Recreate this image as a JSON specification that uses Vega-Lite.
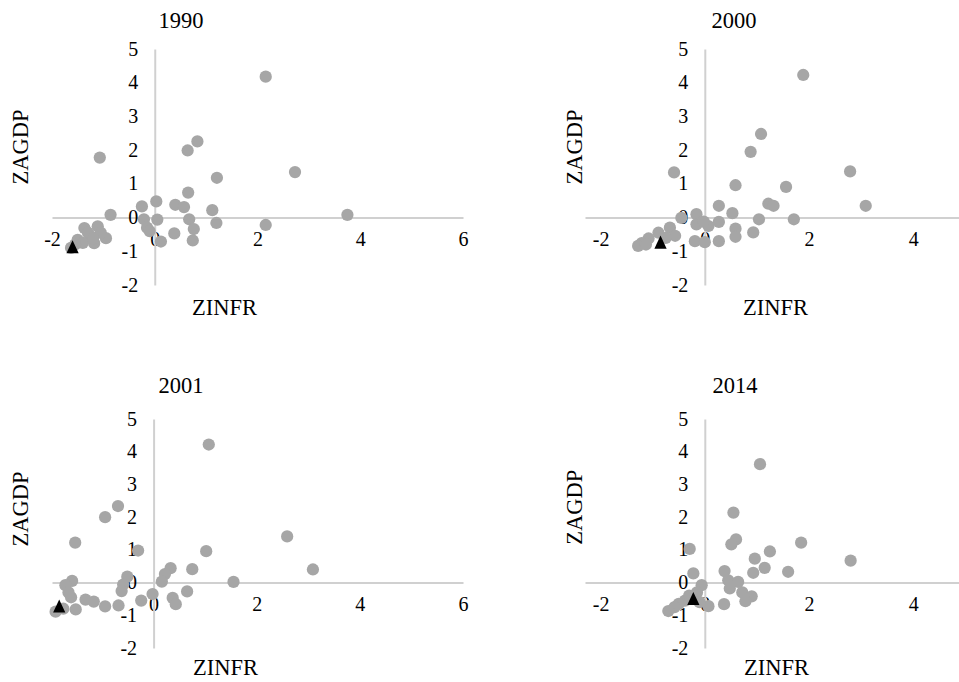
{
  "$schema": "https://vega.github.io/schema/vega-lite/v6.json",
  "background": "white",
  "padding": {"left": 9, "top": 9, "right": 0, "bottom": 0},
  "spacing": 54,
  "datasets": {
    "d": [
      {"p": "1990", "x": 2.16, "y": 4.18, "t": "c"},
      {"p": "1990", "x": 0.83, "y": 2.26, "t": "c"},
      {"p": "1990", "x": 0.64, "y": 1.99, "t": "c"},
      {"p": "1990", "x": -1.07, "y": 1.78, "t": "c"},
      {"p": "1990", "x": 2.73, "y": 1.35, "t": "c"},
      {"p": "1990", "x": 1.21, "y": 1.18, "t": "c"},
      {"p": "1990", "x": 0.65, "y": 0.74, "t": "c"},
      {"p": "1990", "x": 0.03, "y": 0.48, "t": "c"},
      {"p": "1990", "x": -0.25, "y": 0.33, "t": "c"},
      {"p": "1990", "x": 0.4, "y": 0.38, "t": "c"},
      {"p": "1990", "x": 0.57, "y": 0.31, "t": "c"},
      {"p": "1990", "x": 1.12, "y": 0.22, "t": "c"},
      {"p": "1990", "x": -0.86, "y": 0.08, "t": "c"},
      {"p": "1990", "x": 3.75, "y": 0.08, "t": "c"},
      {"p": "1990", "x": 0.67, "y": -0.05, "t": "c"},
      {"p": "1990", "x": 1.2, "y": -0.16, "t": "c"},
      {"p": "1990", "x": 2.16, "y": -0.22, "t": "c"},
      {"p": "1990", "x": 0.76, "y": -0.34, "t": "c"},
      {"p": "1990", "x": 0.38, "y": -0.47, "t": "c"},
      {"p": "1990", "x": 0.74, "y": -0.68, "t": "c"},
      {"p": "1990", "x": 0.12, "y": -0.71, "t": "c"},
      {"p": "1990", "x": 0.05, "y": -0.06, "t": "c"},
      {"p": "1990", "x": -0.21, "y": -0.05, "t": "c"},
      {"p": "1990", "x": -0.15, "y": -0.3, "t": "c"},
      {"p": "1990", "x": -0.1, "y": -0.4, "t": "c"},
      {"p": "1990", "x": -1.37, "y": -0.31, "t": "c"},
      {"p": "1990", "x": -1.11, "y": -0.26, "t": "c"},
      {"p": "1990", "x": -0.95, "y": -0.61, "t": "c"},
      {"p": "1990", "x": -1.25, "y": -0.56, "t": "c"},
      {"p": "1990", "x": -1.5, "y": -0.66, "t": "c"},
      {"p": "1990", "x": -1.63, "y": -0.9, "t": "c"},
      {"p": "1990", "x": -1.18, "y": -0.76, "t": "c"},
      {"p": "1990", "x": -1.3, "y": -0.45, "t": "c"},
      {"p": "1990", "x": -1.05, "y": -0.45, "t": "c"},
      {"p": "1990", "x": -1.4, "y": -0.75, "t": "c"},
      {"p": "1990", "x": -1.55, "y": -0.8, "t": "c"},
      {"p": "1990", "x": -1.2, "y": -0.62, "t": "c"},
      {"p": "1990", "x": -1.6, "y": -0.88, "t": "t"},

      {"p": "2000", "x": 1.89, "y": 4.23, "t": "c"},
      {"p": "2000", "x": 1.08, "y": 2.48, "t": "c"},
      {"p": "2000", "x": 0.88, "y": 1.95, "t": "c"},
      {"p": "2000", "x": -0.59, "y": 1.34, "t": "c"},
      {"p": "2000", "x": 2.79, "y": 1.37, "t": "c"},
      {"p": "2000", "x": 0.59, "y": 0.96, "t": "c"},
      {"p": "2000", "x": 1.56, "y": 0.91, "t": "c"},
      {"p": "2000", "x": 0.27, "y": 0.35, "t": "c"},
      {"p": "2000", "x": 1.22, "y": 0.41, "t": "c"},
      {"p": "2000", "x": 1.32, "y": 0.35, "t": "c"},
      {"p": "2000", "x": 3.09, "y": 0.35, "t": "c"},
      {"p": "2000", "x": 0.53, "y": 0.13, "t": "c"},
      {"p": "2000", "x": -0.16, "y": 0.1, "t": "c"},
      {"p": "2000", "x": -0.45, "y": -0.01, "t": "c"},
      {"p": "2000", "x": 1.04, "y": -0.05, "t": "c"},
      {"p": "2000", "x": 1.71, "y": -0.05, "t": "c"},
      {"p": "2000", "x": 0.27, "y": -0.13, "t": "c"},
      {"p": "2000", "x": -0.16, "y": -0.2, "t": "c"},
      {"p": "2000", "x": 0.07, "y": -0.25, "t": "c"},
      {"p": "2000", "x": 0.59, "y": -0.33, "t": "c"},
      {"p": "2000", "x": 0.59, "y": -0.57, "t": "c"},
      {"p": "2000", "x": 0.93, "y": -0.44, "t": "c"},
      {"p": "2000", "x": 0.27, "y": -0.7, "t": "c"},
      {"p": "2000", "x": -0.19, "y": -0.7, "t": "c"},
      {"p": "2000", "x": 0.0, "y": -0.73, "t": "c"},
      {"p": "2000", "x": -0.67, "y": -0.3, "t": "c"},
      {"p": "2000", "x": -0.57, "y": -0.54, "t": "c"},
      {"p": "2000", "x": -0.89, "y": -0.45, "t": "c"},
      {"p": "2000", "x": -1.08, "y": -0.62, "t": "c"},
      {"p": "2000", "x": -1.21, "y": -0.76, "t": "c"},
      {"p": "2000", "x": -1.28, "y": -0.84, "t": "c"},
      {"p": "2000", "x": -1.13, "y": -0.8, "t": "c"},
      {"p": "2000", "x": -0.75, "y": -0.6, "t": "c"},
      {"p": "2000", "x": -0.02, "y": -0.12, "t": "c"},
      {"p": "2000", "x": -0.85, "y": -0.74, "t": "t"},

      {"p": "2001", "x": 1.07, "y": 4.22, "t": "c"},
      {"p": "2001", "x": -0.69, "y": 2.34, "t": "c"},
      {"p": "2001", "x": -0.94, "y": 2.0, "t": "c"},
      {"p": "2001", "x": 2.59, "y": 1.41, "t": "c"},
      {"p": "2001", "x": -1.52, "y": 1.22, "t": "c"},
      {"p": "2001", "x": -0.3, "y": 0.98, "t": "c"},
      {"p": "2001", "x": 1.02, "y": 0.96, "t": "c"},
      {"p": "2001", "x": 3.09, "y": 0.4, "t": "c"},
      {"p": "2001", "x": 0.75, "y": 0.41, "t": "c"},
      {"p": "2001", "x": 0.33, "y": 0.44, "t": "c"},
      {"p": "2001", "x": 0.22, "y": 0.26, "t": "c"},
      {"p": "2001", "x": 0.16, "y": 0.03, "t": "c"},
      {"p": "2001", "x": 1.55, "y": 0.02, "t": "c"},
      {"p": "2001", "x": -0.51, "y": 0.18, "t": "c"},
      {"p": "2001", "x": -0.59, "y": -0.06, "t": "c"},
      {"p": "2001", "x": -0.62, "y": -0.26, "t": "c"},
      {"p": "2001", "x": 0.65, "y": -0.27, "t": "c"},
      {"p": "2001", "x": 0.37, "y": -0.47, "t": "c"},
      {"p": "2001", "x": 0.43, "y": -0.66, "t": "c"},
      {"p": "2001", "x": -0.02, "y": -0.35, "t": "c"},
      {"p": "2001", "x": -0.24, "y": -0.55, "t": "c"},
      {"p": "2001", "x": -0.68, "y": -0.7, "t": "c"},
      {"p": "2001", "x": -0.94, "y": -0.73, "t": "c"},
      {"p": "2001", "x": -1.16, "y": -0.58, "t": "c"},
      {"p": "2001", "x": -1.32, "y": -0.52, "t": "c"},
      {"p": "2001", "x": -1.58, "y": 0.05, "t": "c"},
      {"p": "2001", "x": -1.71, "y": -0.08, "t": "c"},
      {"p": "2001", "x": -1.6, "y": -0.45, "t": "c"},
      {"p": "2001", "x": -1.51, "y": -0.82, "t": "c"},
      {"p": "2001", "x": -1.9, "y": -0.89, "t": "c"},
      {"p": "2001", "x": -1.75, "y": -0.8, "t": "c"},
      {"p": "2001", "x": -1.65, "y": -0.3, "t": "c"},
      {"p": "2001", "x": -1.83, "y": -0.73, "t": "t"},

      {"p": "2014", "x": 1.06, "y": 3.62, "t": "c"},
      {"p": "2014", "x": 0.55, "y": 2.14, "t": "c"},
      {"p": "2014", "x": 0.6, "y": 1.32, "t": "c"},
      {"p": "2014", "x": 0.51, "y": 1.17, "t": "c"},
      {"p": "2014", "x": 1.85, "y": 1.22, "t": "c"},
      {"p": "2014", "x": -0.29, "y": 1.03, "t": "c"},
      {"p": "2014", "x": 1.25, "y": 0.95, "t": "c"},
      {"p": "2014", "x": 0.96, "y": 0.73, "t": "c"},
      {"p": "2014", "x": 2.8, "y": 0.67, "t": "c"},
      {"p": "2014", "x": 1.15, "y": 0.45, "t": "c"},
      {"p": "2014", "x": 0.93, "y": 0.3, "t": "c"},
      {"p": "2014", "x": 1.6, "y": 0.33, "t": "c"},
      {"p": "2014", "x": 0.38, "y": 0.35, "t": "c"},
      {"p": "2014", "x": -0.22, "y": 0.28, "t": "c"},
      {"p": "2014", "x": -0.06, "y": -0.08, "t": "c"},
      {"p": "2014", "x": 0.45, "y": 0.07, "t": "c"},
      {"p": "2014", "x": 0.64, "y": 0.02, "t": "c"},
      {"p": "2014", "x": 0.48, "y": -0.18, "t": "c"},
      {"p": "2014", "x": 0.72, "y": -0.3, "t": "c"},
      {"p": "2014", "x": 0.9, "y": -0.42, "t": "c"},
      {"p": "2014", "x": 0.78, "y": -0.57, "t": "c"},
      {"p": "2014", "x": 0.37, "y": -0.66, "t": "c"},
      {"p": "2014", "x": 0.07, "y": -0.72, "t": "c"},
      {"p": "2014", "x": -0.38, "y": -0.55, "t": "c"},
      {"p": "2014", "x": -0.5, "y": -0.65, "t": "c"},
      {"p": "2014", "x": -0.58, "y": -0.75, "t": "c"},
      {"p": "2014", "x": -0.7, "y": -0.87, "t": "c"},
      {"p": "2014", "x": -0.15, "y": -0.3, "t": "c"},
      {"p": "2014", "x": -0.3, "y": -0.4, "t": "c"},
      {"p": "2014", "x": -0.1, "y": -0.6, "t": "c"},
      {"p": "2014", "x": -0.22, "y": -0.5, "t": "t"}
    ]
  },
  "config": {
    "view": {"stroke": null},
    "font": "Liberation Serif",
    "title": {"font": "Liberation Serif", "fontSize": 22.5, "fontWeight": "normal", "color": "#000000"},
    "style": {
      "guide-label": {"font": "Liberation Serif", "fontSize": 20, "fill": "#000000"},
      "guide-title": {"font": "Liberation Serif", "fontSize": 22.5, "fontWeight": "normal", "fill": "#000000"}
    },
    "axis": {
      "domainColor": "#d0d0d0", "domainWidth": 2, "ticks": false, "tickSize": 0, "grid": false,
      "labelFont": "Liberation Serif", "labelFontSize": 20, "labelColor": "#000000",
      "titleFont": "Liberation Serif", "titleFontSize": 22.5, "titleFontWeight": "normal", "titleColor": "#000000",
      "labelFlush": false, "labelOverlap": false, "labelBound": false,
      "labelExpr": "'' + datum.value"
    },
    "axisX": {"labelPadding": 12, "titleBaseline": "alphabetic", "titleAlign": "center", "titleAngle": 0},
    "axisY": {"labelPadding": 17, "titleBaseline": "middle", "titleAlign": "center", "titleAngle": 270}
  },
  "resolve": {"scale": {"x": "independent", "y": "independent"}},
  "vconcat": [
    {
      "spacing": 95,
      "resolve": {"scale": {"x": "independent", "y": "independent"}},
      "hconcat": [
        {
          "width": 411, "height": 236,
          "data": {"name": "d"},
          "title": {"text": "1990", "anchor": "start", "align": "center", "dx": 129, "offset": -11, "frame": "group", "baseline": "alphabetic"},
          "transform": [{"filter": "datum.p === '1990'"}],
          "mark": {"type": "point", "filled": true, "opacity": 1},
          "encoding": {
            "x": {"field": "x", "type": "quantitative", "scale": {"domain": [-2, 6], "nice": false, "zero": false},
                  "axis": {"values": [-2, 0, 2, 4, 6], "offset": -67.43, "title": "ZINFR", "titleX": 172, "titleY": 97.4, "labelFont": "Liberation Serif", "titleFont": "Liberation Serif", "labelExpr": "'' + datum.value"}},
            "y": {"field": "y", "type": "quantitative", "scale": {"domain": [-2, 5], "nice": false, "zero": false},
                  "axis": {"values": [-2, -1, 0, 1, 2, 3, 4, 5], "offset": -102.75, "title": "ZAGDP", "titleX": -134.25, "titleY": 97.5, "labelFont": "Liberation Serif", "titleFont": "Liberation Serif", "labelExpr": "'' + datum.value"}},
            "shape": {"field": "t", "type": "nominal", "scale": {"domain": ["c", "t"], "range": ["circle", "M0,-1.15L-1,1L1,1Z"]}, "legend": null},
            "color": {"field": "t", "type": "nominal", "scale": {"domain": ["c", "t"], "range": ["#a6a6a6", "#000000"]}, "legend": null},
            "size": {"field": "t", "type": "ordinal", "scale": {"domain": ["c", "t"], "range": [150, 150]}, "legend": null}
          }
        },
        {
          "width": 375, "height": 236,
          "data": {"name": "d"},
          "title": {"text": "2000", "anchor": "start", "align": "center", "dx": 149, "offset": -11, "frame": "group", "baseline": "alphabetic"},
          "transform": [{"filter": "datum.p === '2000'"}],
          "mark": {"type": "point", "filled": true, "opacity": 1},
          "encoding": {
            "x": {"field": "x", "type": "quantitative", "scale": {"domain": [-2.3, 4.9], "nice": false, "zero": false},
                  "axis": {"values": [-2, 0, 2, 4], "offset": -67.43, "title": "ZINFR", "titleX": 190, "titleY": 97.4, "labelFont": "Liberation Serif", "titleFont": "Liberation Serif", "labelExpr": "'' + datum.value"}},
            "y": {"field": "y", "type": "quantitative", "scale": {"domain": [-2, 5], "nice": false, "zero": false},
                  "axis": {"values": [-2, -1, 0, 1, 2, 3, 4, 5], "offset": -119.8, "title": "ZAGDP", "titleX": -130.3, "titleY": 97.5, "labelFont": "Liberation Serif", "titleFont": "Liberation Serif", "labelExpr": "'' + datum.value"}},
            "shape": {"field": "t", "type": "nominal", "scale": {"domain": ["c", "t"], "range": ["circle", "M0,-1.15L-1,1L1,1Z"]}, "legend": null},
            "color": {"field": "t", "type": "nominal", "scale": {"domain": ["c", "t"], "range": ["#a6a6a6", "#000000"]}, "legend": null},
            "size": {"field": "t", "type": "ordinal", "scale": {"domain": ["c", "t"], "range": [150, 150]}, "legend": null}
          }
        }
      ]
    },
    {
      "spacing": 95,
      "resolve": {"scale": {"x": "independent", "y": "independent"}},
      "hconcat": [
        {
          "width": 411, "height": 229,
          "data": {"name": "d"},
          "title": {"text": "2001", "anchor": "start", "align": "center", "dx": 129, "offset": -6, "frame": "group", "baseline": "alphabetic"},
          "transform": [{"filter": "datum.p === '2001'"}],
          "mark": {"type": "point", "filled": true, "opacity": 1},
          "encoding": {
            "x": {"field": "x", "type": "quantitative", "scale": {"domain": [-1.97, 6], "nice": false, "zero": false},
                  "axis": {"values": [-2, 0, 2, 4, 6], "offset": -65.43, "title": "ZINFR", "titleX": 173, "titleY": 92.4, "labelFont": "Liberation Serif", "titleFont": "Liberation Serif", "labelExpr": "'' + datum.value"}},
            "y": {"field": "y", "type": "quantitative", "scale": {"domain": [-2, 5], "nice": false, "zero": false},
                  "axis": {"values": [-2, -1, 0, 1, 2, 3, 4, 5], "offset": -101.6, "title": "ZAGDP", "titleX": -133.1, "titleY": 89.5, "labelFont": "Liberation Serif", "titleFont": "Liberation Serif", "labelExpr": "'' + datum.value"}},
            "shape": {"field": "t", "type": "nominal", "scale": {"domain": ["c", "t"], "range": ["circle", "M0,-1.15L-1,1L1,1Z"]}, "legend": null},
            "color": {"field": "t", "type": "nominal", "scale": {"domain": ["c", "t"], "range": ["#a6a6a6", "#000000"]}, "legend": null},
            "size": {"field": "t", "type": "ordinal", "scale": {"domain": ["c", "t"], "range": [150, 150]}, "legend": null}
          }
        },
        {
          "width": 375, "height": 229,
          "data": {"name": "d"},
          "title": {"text": "2014", "anchor": "start", "align": "center", "dx": 150, "offset": -6, "frame": "group", "baseline": "alphabetic"},
          "transform": [{"filter": "datum.p === '2014'"}],
          "mark": {"type": "point", "filled": true, "opacity": 1},
          "encoding": {
            "x": {"field": "x", "type": "quantitative", "scale": {"domain": [-2.3, 4.9], "nice": false, "zero": false},
                  "axis": {"values": [-2, 0, 2, 4], "offset": -65.43, "title": "ZINFR", "titleX": 191, "titleY": 92.4, "labelFont": "Liberation Serif", "titleFont": "Liberation Serif", "labelExpr": "'' + datum.value"}},
            "y": {"field": "y", "type": "quantitative", "scale": {"domain": [-2, 5], "nice": false, "zero": false},
                  "axis": {"values": [-2, -1, 0, 1, 2, 3, 4, 5], "offset": -119.8, "title": "ZAGDP", "titleX": -130.3, "titleY": 87.8, "labelFont": "Liberation Serif", "titleFont": "Liberation Serif", "labelExpr": "'' + datum.value"}},
            "shape": {"field": "t", "type": "nominal", "scale": {"domain": ["c", "t"], "range": ["circle", "M0,-1.15L-1,1L1,1Z"]}, "legend": null},
            "color": {"field": "t", "type": "nominal", "scale": {"domain": ["c", "t"], "range": ["#a6a6a6", "#000000"]}, "legend": null},
            "size": {"field": "t", "type": "ordinal", "scale": {"domain": ["c", "t"], "range": [150, 150]}, "legend": null}
          }
        }
      ]
    }
  ]
}
